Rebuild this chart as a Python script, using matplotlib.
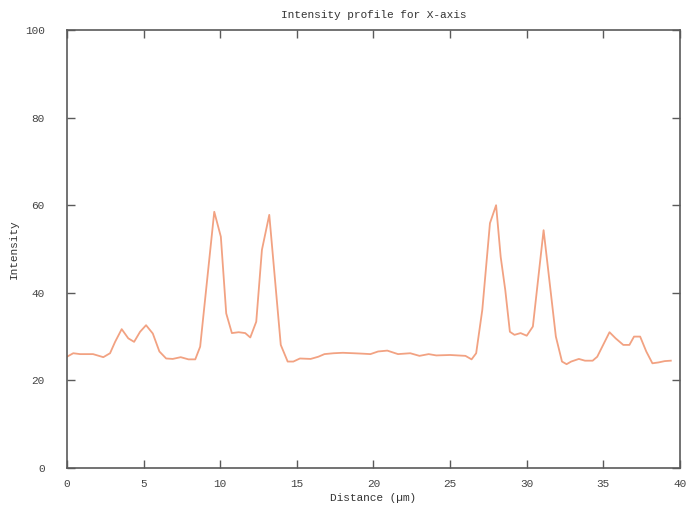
import numpy as np
import matplotlib.pyplot as plt

# profile along x
distance = [0.0, 0.41, 0.85, 1.3, 1.7, 2.37, 2.81, 3.14, 3.57, 4.0, 4.38, 4.77,
            5.16, 5.6, 6.03, 6.47, 6.9, 7.42, 7.93, 8.37, 8.69, 9.61, 10.04,
            10.39, 10.76, 11.2, 11.63, 11.96, 12.35, 12.72, 13.2, 13.95, 14.4,
            14.77, 15.2, 15.9, 16.4, 16.8, 17.4, 18.0, 18.7, 19.3, 19.8, 20.3,
            20.9, 21.6, 22.4, 23.0, 23.6, 24.1, 25.0, 26.0, 26.4, 26.7, 27.1,
            27.6, 28.0, 28.3, 28.6, 28.9, 29.2, 29.6, 30.0, 30.4, 31.1, 31.4,
            31.9, 32.3, 32.6, 32.9, 33.4, 33.8, 34.3, 34.6, 35.4, 35.8, 36.3,
            36.7, 37.0, 37.4, 37.8, 38.2, 38.6, 39.0, 39.4]
intensity = [25.4, 26.2, 26.0, 26.0, 26.0, 25.3, 26.2, 28.8, 31.7, 29.6, 28.8,
             31.1, 32.6, 30.7, 26.6, 25.0, 24.9, 25.3, 24.8, 24.8, 27.7, 58.5,
             52.8, 35.3, 30.8, 31.0, 30.8, 29.8, 33.4, 49.8, 57.8, 28.1, 24.3,
             24.3, 25.0, 24.9, 25.4, 26.0, 26.2, 26.3, 26.2, 26.1, 26.0, 26.6,
             26.8, 26.0, 26.2, 25.6, 26.0, 25.7, 25.8, 25.6, 24.8, 26.2, 36.1,
             55.9, 60.0, 48.2, 40.6, 31.1, 30.4, 30.8, 30.2, 32.3, 54.3, 45.2,
             30.0, 24.3, 23.7, 24.3, 24.9, 24.5, 24.5, 25.4, 31.0, 29.6, 28.1,
             28.1, 30.0, 30.0, 26.6, 23.9, 24.1, 24.4, 24.5]

xticks = [0, 5, 10, 15, 20, 25, 30, 35, 40]
yticks = [0, 20, 40, 60, 80, 100]

plt.rcParams['font.family'] = 'Liberation Mono'

fig = plt.figure(figsize=(6.87, 5.09), dpi=100)
ax = fig.add_axes([0.0975, 0.0806, 0.8923, 0.8604])

ax.plot(distance, intensity, color='#f2a282', lw=1.3)

ax.set_xlim(0, 40)
ax.set_ylim(0, 100)
ax.set_xticks(xticks)
ax.set_yticks(yticks)
ax.tick_params(direction='in', length=6, width=1, colors='#5a5a5a',
               labelcolor='#444444', labelsize=8, top=True, right=True)
ax.tick_params(axis='x', pad=8)
ax.tick_params(axis='y', pad=16)
for s in ax.spines.values():
    s.set_color('#5a5a5a')
    s.set_linewidth(1.2)

ax.set_title('Intensity profile for X-axis', fontsize=8, color='#333333', pad=9)
ax.set_xlabel('Distance (\u00b5m)', fontsize=8, color='#333333', labelpad=3)
ax.set_ylabel('Intensity', fontsize=8, color='#333333', labelpad=4)

fig.savefig('out.png', dpi=100)
